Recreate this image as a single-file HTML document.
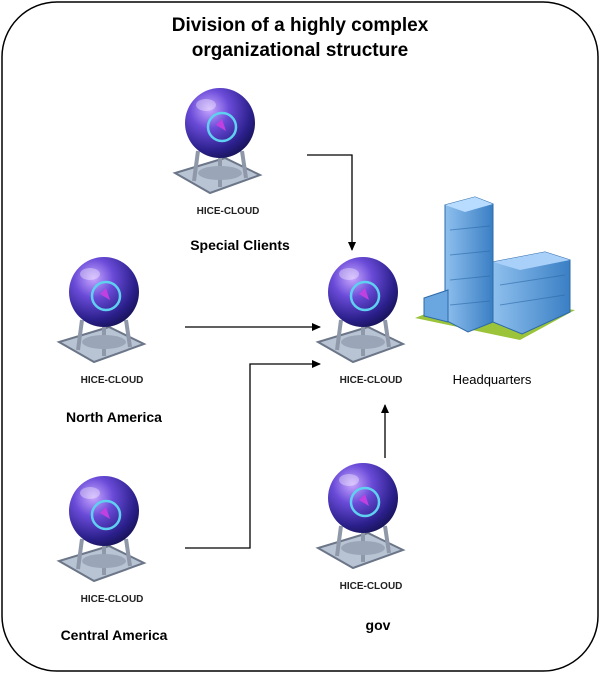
<!DOCTYPE html>
<html><head><meta charset="utf-8"><style>
html,body{margin:0;padding:0;background:#fff;}
svg{display:block;font-family:"Liberation Sans",sans-serif;}
</style></head><body>
<svg width="600" height="673" viewBox="0 0 600 673">
<defs>
<radialGradient id="sph" cx="0.35" cy="0.3" r="0.8">
<stop offset="0" stop-color="#c9a8ff"/><stop offset="0.35" stop-color="#6a4bd8"/><stop offset="0.75" stop-color="#2a1f8a"/><stop offset="1" stop-color="#12104a"/>
</radialGradient>
<linearGradient id="bld" x1="0" y1="0" x2="1" y2="0"><stop offset="0" stop-color="#8fc0ee"/><stop offset="1" stop-color="#3a7fc4"/></linearGradient>
<g id="ic">
<path d="M-45,50 L-10,70 L40,52 L5,35 Z" fill="#b8c3d3" stroke="#6b7688" stroke-width="2"/>
<path d="M-22,28 L-26,58 M22,28 L26,55 M0,35 L0,64" stroke="#8e98a8" stroke-width="4" fill="none"/>
<ellipse cx="0" cy="50" rx="22" ry="7" fill="#9aa6b8"/>
<circle cx="0" cy="0" r="35" fill="url(#sph)"/>
<circle cx="2" cy="4" r="14" fill="none" stroke="#5fd0f0" stroke-width="2.5"/>
<path d="M-4,2 L6,8 L2,-4 Z" fill="#c040e0"/>
<ellipse cx="-14" cy="-18" rx="10" ry="6" fill="#fff" opacity="0.35"/>
</g>
<marker id="ar" markerWidth="10" markerHeight="10" refX="8" refY="5" orient="auto" markerUnits="userSpaceOnUse"><path d="M0,1 L9,5 L0,9 Z" fill="#000"/></marker>
</defs>
<rect x="2" y="2" width="596" height="669" rx="55" fill="#fff" stroke="#000" stroke-width="1.5"/>
<text x="300" y="31" text-anchor="middle" font-size="19" font-weight="bold">Division of a highly complex</text>
<text x="300" y="56" text-anchor="middle" font-size="19" font-weight="bold">organizational structure</text>

<use href="#ic" x="220" y="123"/>
<use href="#ic" x="104" y="292"/>
<use href="#ic" x="363" y="292"/>
<use href="#ic" x="104" y="511"/>
<use href="#ic" x="363" y="498"/>

<g font-size="10" font-weight="bold" text-anchor="middle" fill="#222">
<text x="228" y="214">HICE-CLOUD</text>
<text x="112" y="383">HICE-CLOUD</text>
<text x="371" y="383">HICE-CLOUD</text>
<text x="112" y="602">HICE-CLOUD</text>
<text x="371" y="589">HICE-CLOUD</text>
</g>
<g font-size="14" font-weight="bold" text-anchor="middle">
<text x="240" y="250">Special Clients</text>
<text x="114" y="422">North America</text>
<text x="114" y="640">Central America</text>
<text x="378" y="630">gov</text>
<text x="492" y="384" font-weight="normal" font-size="13">Headquarters</text>
</g>

<!-- building -->
<path d="M415,318 L470,296 L575,310 L520,340 Z" fill="#9bc43a"/>
<path d="M445,205 L475,197 L493,204 L493,322 L468,332 L445,320 Z" fill="url(#bld)" stroke="#2d6aa8"/>
<path d="M445,205 L475,197 L493,204 L465,212 Z" fill="#b8dcff"/>
<path d="M493,262 L545,252 L570,260 L570,312 L522,334 L493,322 Z" fill="url(#bld)" stroke="#2d6aa8"/>
<path d="M493,262 L545,252 L570,260 L520,270 Z" fill="#a8d0f8"/>
<path d="M424,298 L448,290 L448,322 L424,316 Z" fill="#6aa6e0" stroke="#2d6aa8"/>
<g stroke="#2d6aa8" stroke-width="1" opacity="0.6">
<path d="M450,230 L490,226 M450,255 L490,251 M450,280 L490,276 M450,305 L490,301 M500,285 L565,275 M500,305 L565,295"/>
</g>

<g stroke="#000" stroke-width="1.3" fill="none">
<path d="M307,155 L352,155 L352,250" marker-end="url(#ar)"/>
<path d="M185,327 L320,327" marker-end="url(#ar)"/>
<path d="M185,548 L250,548 L250,364 L320,364" marker-end="url(#ar)"/>
<path d="M385,458 L385,405" marker-end="url(#ar)"/>
</g>
</svg>
</body></html>
